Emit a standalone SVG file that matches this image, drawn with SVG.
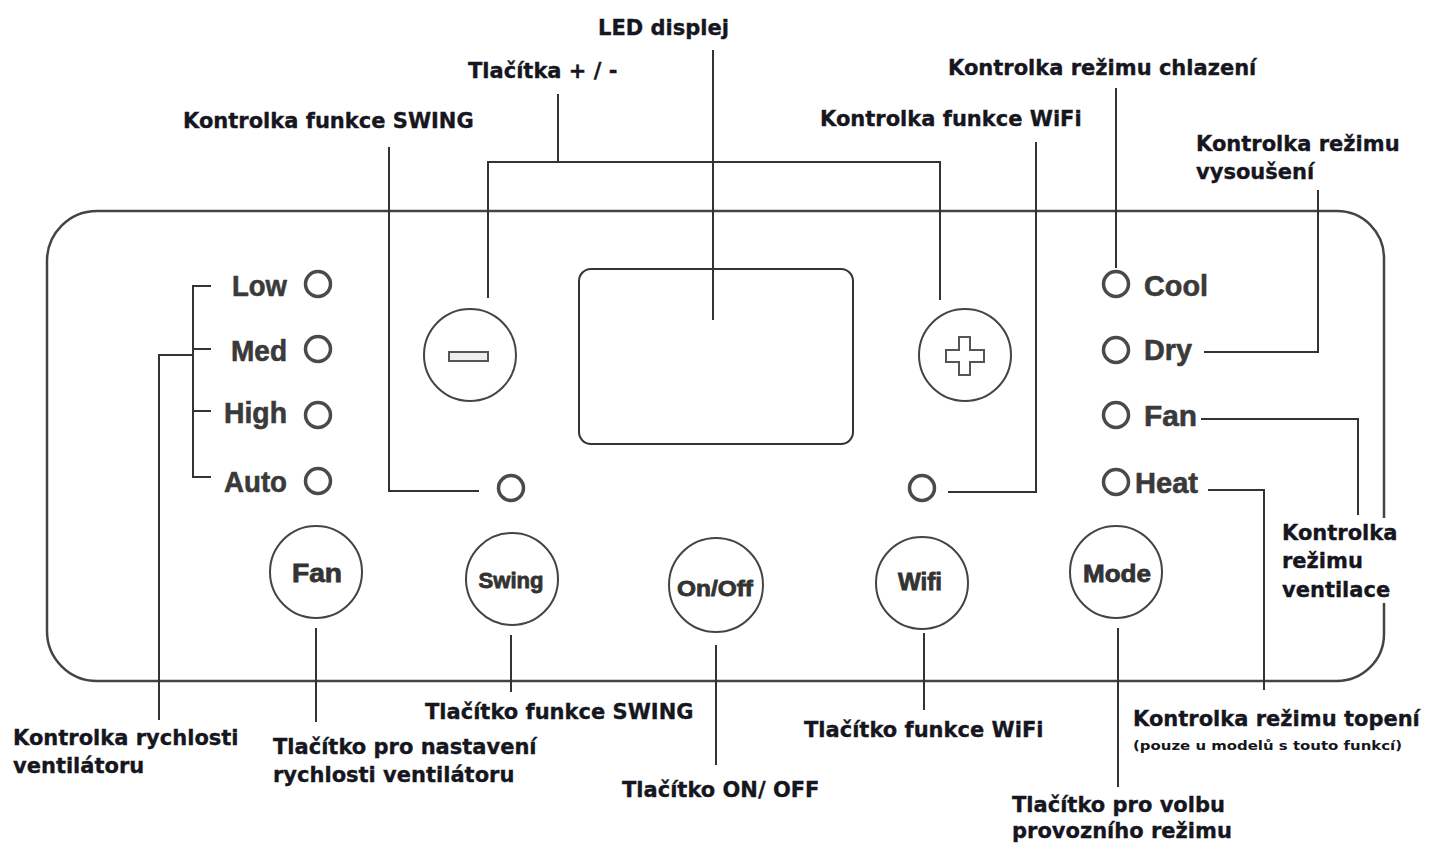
<svg xmlns="http://www.w3.org/2000/svg" width="1430" height="843" viewBox="0 0 1430 843">
<style>
.lbl{font-family:"DejaVu Sans","Liberation Sans",sans-serif;font-weight:bold;font-size:21px;fill:#161620;stroke:#161620;stroke-width:0.35}
.small{font-family:"DejaVu Sans","Liberation Sans",sans-serif;font-weight:bold;font-size:12px;fill:#161620}
.pt{font-family:"Liberation Sans",Arial,sans-serif;font-weight:bold;font-size:29px;fill:#3a3a3a;stroke:#3a3a3a;stroke-width:0.6}
.bt{font-family:"Liberation Sans",Arial,sans-serif;font-weight:bold;fill:#333;stroke:#333;stroke-width:0.8}
.ln{fill:none;stroke:#333;stroke-width:2}
.panel{fill:none;stroke:#444;stroke-width:2.5}
.btn{fill:#fff;stroke:#444;stroke-width:2}
.led{fill:#fff;stroke:#4a4a4a;stroke-width:3.5}
</style>
<rect width="1430" height="843" fill="#fff"/>

<g id="panel">
<path class="panel" d="M1384 518 V258 A47 47 0 0 0 1337 211 H97 A50 50 0 0 0 47 261 V631 A50 50 0 0 0 97 681 H1337 A47 47 0 0 0 1384 634 V603"/>
</g>

<g id="display"><rect class="ln" x="579" y="269" width="274" height="175" rx="12"/></g>

<g id="btn-minus"><circle class="btn" cx="470" cy="355" r="46"/><rect x="449" y="352" width="39" height="9" fill="#eee" stroke="#555" stroke-width="2"/></g>
<g id="btn-plus"><circle class="btn" cx="965" cy="355" r="46"/>
<polygon points="959,337 970,337 970,350 984,350 984,362 970,362 970,375 959,375 959,362 946,362 946,350 959,350" fill="#fff" stroke="#555" stroke-width="2"/></g>

<g id="speed-leds">
<text class="pt" x="287" y="296" text-anchor="end" textLength="55" lengthAdjust="spacingAndGlyphs">Low</text>
<text class="pt" x="287" y="361" text-anchor="end" textLength="56" lengthAdjust="spacingAndGlyphs">Med</text>
<text class="pt" x="287" y="423" text-anchor="end" textLength="63" lengthAdjust="spacingAndGlyphs">High</text>
<text class="pt" x="287" y="492" text-anchor="end" textLength="63" lengthAdjust="spacingAndGlyphs">Auto</text>
<circle class="led" cx="318" cy="284" r="12.5"/>
<circle class="led" cx="318" cy="349" r="12.5"/>
<circle class="led" cx="318" cy="415" r="12.5"/>
<circle class="led" cx="318" cy="481" r="12.5"/>
</g>

<g id="mode-leds">
<circle class="led" cx="1116" cy="284" r="12.5"/>
<circle class="led" cx="1116" cy="350" r="12.5"/>
<circle class="led" cx="1116" cy="415" r="12.5"/>
<circle class="led" cx="1116" cy="482" r="12.5"/>
<text class="pt" x="1144" y="296" textLength="64" lengthAdjust="spacingAndGlyphs">Cool</text>
<text class="pt" x="1144" y="360" textLength="48" lengthAdjust="spacingAndGlyphs">Dry</text>
<text class="pt" x="1144" y="426" textLength="53" lengthAdjust="spacingAndGlyphs">Fan</text>
<text class="pt" x="1135" y="493" textLength="63" lengthAdjust="spacingAndGlyphs">Heat</text>
</g>

<g id="swing-led"><circle class="led" cx="511" cy="488" r="12.5"/></g>
<g id="wifi-led"><circle class="led" cx="922" cy="488" r="12.5"/></g>

<g id="btn-fan"><circle class="btn" cx="316" cy="572" r="46"/><text class="bt" x="317" y="582" font-size="25" text-anchor="middle" textLength="50" lengthAdjust="spacingAndGlyphs">Fan</text></g>
<g id="btn-swing"><circle class="btn" cx="512" cy="579" r="46"/><text class="bt" x="511" y="588" font-size="22" text-anchor="middle" textLength="65" lengthAdjust="spacingAndGlyphs">Swing</text></g>
<g id="btn-onoff"><circle class="btn" cx="716" cy="585" r="47"/><text class="bt" x="715" y="596" font-size="22" text-anchor="middle" textLength="76" lengthAdjust="spacingAndGlyphs">On/Off</text></g>
<g id="btn-wifi"><circle class="btn" cx="922" cy="583" r="46"/><text class="bt" x="920" y="590" font-size="23" text-anchor="middle" textLength="44" lengthAdjust="spacingAndGlyphs">Wifi</text></g>
<g id="btn-mode"><circle class="btn" cx="1116" cy="572" r="46"/><text class="bt" x="1117" y="582" font-size="24" text-anchor="middle" textLength="68" lengthAdjust="spacingAndGlyphs">Mode</text></g>

<g id="connectors">
<path class="ln" d="M713 50 V320"/>
<path class="ln" d="M558 94 V162 M488 298 V162 H940 V300"/>
<path class="ln" d="M389 147 V491 H479"/>
<path class="ln" d="M1036 142 V492 H948"/>
<path class="ln" d="M1116 88 V268"/>
<path class="ln" d="M1318 190 V352 H1204"/>
<path class="ln" d="M1201 419 H1358 V515"/>
<path class="ln" d="M1208 490 H1264 V690"/>
<path class="ln" d="M211 286 H193 V477 H211 M193 349 H211 M193 411 H211 M193 355 H159 V720"/>
<path class="ln" d="M316 628 V722"/>
<path class="ln" d="M511 635 V692"/>
<path class="ln" d="M716 645 V765"/>
<path class="ln" d="M924 633 V710"/>
<path class="ln" d="M1118 628 V787"/>
</g>

<g id="labels">
<text class="lbl" x="598" y="35">LED displej</text>
<text class="lbl" x="468" y="78">Tlačítka + / -</text>
<text class="lbl" x="183" y="128">Kontrolka funkce SWING</text>
<text class="lbl" x="820" y="126">Kontrolka funkce WiFi</text>
<text class="lbl" x="948" y="75">Kontrolka režimu chlazení</text>
<text class="lbl" x="1196" y="151">Kontrolka režimu</text>
<text class="lbl" x="1196" y="179">vysoušení</text>
<text class="lbl" x="1282" y="540">Kontrolka</text>
<text class="lbl" x="1282" y="568">režimu</text>
<text class="lbl" x="1282" y="597">ventilace</text>
<text class="lbl" x="13" y="745">Kontrolka rychlosti</text>
<text class="lbl" x="13" y="773">ventilátoru</text>
<text class="lbl" x="273" y="754">Tlačítko pro nastavení</text>
<text class="lbl" x="273" y="782">rychlosti ventilátoru</text>
<text class="lbl" x="425" y="719">Tlačítko funkce SWING</text>
<text class="lbl" x="622" y="797">Tlačítko ON/ OFF</text>
<text class="lbl" x="804" y="737">Tlačítko funkce WiFi</text>
<text class="lbl" x="1133" y="726">Kontrolka režimu topení</text>
<text class="small" x="1133" y="750" textLength="269" lengthAdjust="spacingAndGlyphs">(pouze u modelů s touto funkcí)</text>
<text class="lbl" x="1012" y="812">Tlačítko pro volbu</text>
<text class="lbl" x="1012" y="838">provozního režimu</text>
</g>
</svg>
